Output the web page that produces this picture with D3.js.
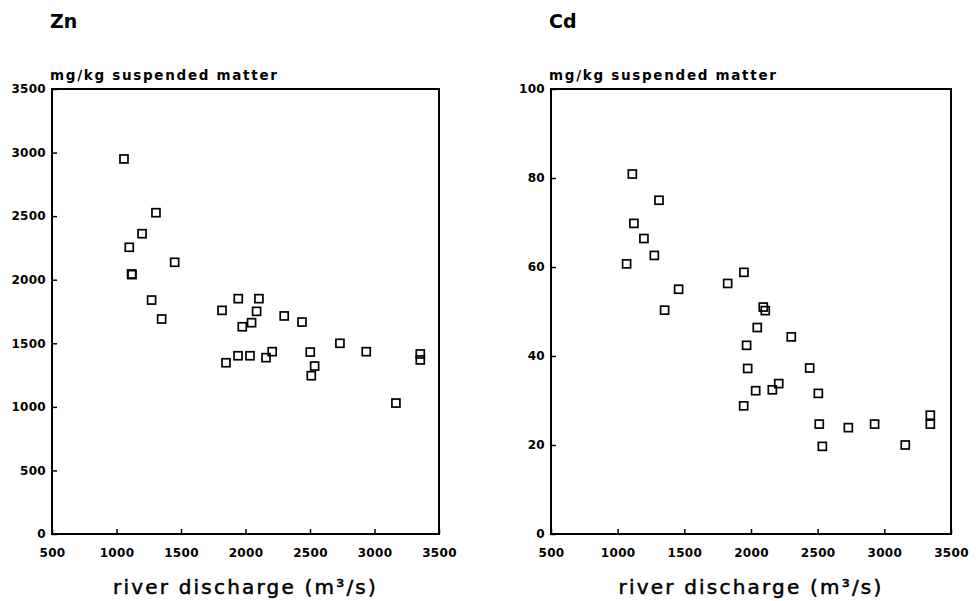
<!DOCTYPE html>
<html>
<head>
<meta charset="utf-8">
<script src="https://cdn.jsdelivr.net/npm/d3@7"></script>
<style>
  body { margin: 0; background: #fff; }
  svg { display: block; }
  .tick text { font-family: "DejaVu Sans", sans-serif; font-weight: bold; font-size: 12px; letter-spacing: 0.3px; fill: #000; }
  .tick line { stroke: #000; stroke-width: 1.5px; }
</style>
</head>
<body>
<svg width="980" height="601"></svg>
<script>
// discharge ticks and the two y tick sets
var dischargeTicks = [500, 1000, 1500, 2000, 2500, 3000, 3500];
var znTicks = [0, 500, 1000, 1500, 2000, 2500, 3000, 3500];
var cdTicks = [0, 20, 40, 60, 80, 100];

// Zn: river discharge (m3/s) vs mg/kg suspended matter
var znDischarge = [1058, 1306, 1198, 1099, 1451, 1117, 1120, 1272, 1350, 1818,
                   1944, 2104, 2086, 2047, 1975, 2300, 2438, 1849, 1942, 2035,
                   2159, 2207, 2502, 2536, 2510, 2732, 2936, 3166, 3355, 3355];
var znValues    = [2950, 2527, 2362, 2255, 2137, 2045, 2040, 1840, 1691, 1759,
                   1851, 1851, 1751, 1662, 1630, 1715, 1667, 1347, 1402, 1402,
                   1387, 1434, 1431, 1321, 1245, 1500, 1434, 1030, 1416, 1369];

// Cd
var cdDischarge = [1110, 1310, 1122, 1197, 1275, 1067, 1947, 1825, 1457, 1352,
                   2092, 2107, 2047, 2302, 1967, 1975, 2440, 2208, 2160, 2035,
                   2505, 1945, 2512, 2730, 2927, 3345, 3345, 2535, 3157];
var cdValues    = [80.9, 75.0, 69.8, 66.4, 62.6, 60.7, 58.8, 56.3, 55.0, 50.3,
                   51.0, 50.2, 46.4, 44.3, 42.4, 37.2, 37.3, 33.8, 32.4, 32.2,
                   31.6, 28.8, 24.7, 23.9, 24.7, 26.7, 24.7, 19.7, 20.0];

var svg = d3.select("svg");

function drawPanel(opt){
  var x = d3.scaleLinear().domain([500, 3500]).range([opt.left, opt.right]);
  var y = d3.scaleLinear().domain([0, opt.yMax]).range([534, 89]);

  var g = svg.append("g");

  g.append("text")
    .attr("x", opt.left - 2).attr("y", 28)
    .style("font-family", "DejaVu Sans, sans-serif")
    .style("font-weight", "bold").style("font-size", "19px")
    .text(opt.title);

  g.append("text")
    .attr("x", opt.left - 2).attr("y", 80)
    .style("font-family", "DejaVu Sans, sans-serif")
    .style("font-weight", "bold").style("font-size", "13.5px")
    .style("letter-spacing", "1.7px")
    .text("mg/kg suspended matter");

  var yAxis = d3.axisLeft(y).tickValues(opt.yTicks).tickFormat(d3.format("d"))
    .tickSizeInner(-5).tickSizeOuter(0).tickPadding(6);
  var xAxis = d3.axisBottom(x).tickValues(dischargeTicks).tickFormat(d3.format("d"))
    .tickSizeInner(-5).tickSizeOuter(0).tickPadding(14);

  g.append("g").attr("transform", "translate(" + opt.left + ",0)").call(yAxis)
    .call(function(s){ s.select(".domain").remove(); });
  g.append("g").attr("transform", "translate(0,534)").call(xAxis)
    .call(function(s){ s.select(".domain").remove(); });

  g.append("rect")
    .attr("x", opt.left).attr("y", 89)
    .attr("width", opt.right - opt.left).attr("height", 534 - 89)
    .attr("fill", "none").attr("stroke", "#000").attr("stroke-width", 2);

  g.append("text")
    .attr("x", (opt.left + opt.right) / 2).attr("y", 594)
    .attr("text-anchor", "middle")
    .style("font-family", "DejaVu Sans, sans-serif")
    .style("font-size", "20px").style("letter-spacing", "2.2px")
    .style("stroke", "#000").style("stroke-width", "0.5px")
    .text("river discharge (m³/s)");

  g.append("g").selectAll("rect")
    .data(opt.xs.map(function(d, i){ return {q: d, v: opt.ys[i]}; }))
    .enter().append("rect")
      .attr("x", function(d){ return x(d.q) - 4; })
      .attr("y", function(d){ return y(d.v) - 4; })
      .attr("width", 8).attr("height", 8)
      .attr("fill", "none").attr("stroke", "#000").attr("stroke-width", 1.7);
}

drawPanel({title: "Zn", left: 52, right: 439, yMax: 3500, yTicks: znTicks, xs: znDischarge, ys: znValues});
drawPanel({title: "Cd", left: 551, right: 951, yMax: 100, yTicks: cdTicks, xs: cdDischarge, ys: cdValues});
</script>
</body>
</html>
